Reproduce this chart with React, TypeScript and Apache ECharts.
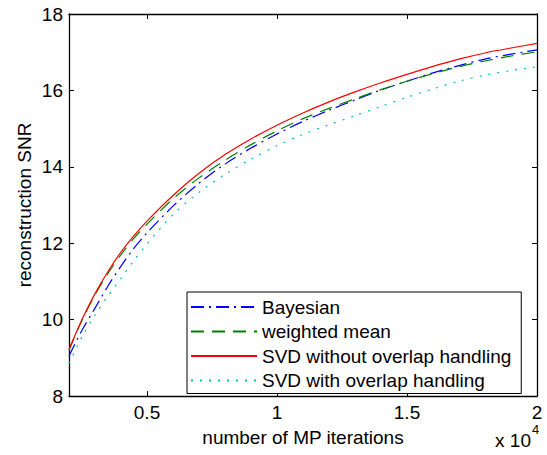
import React, { useEffect, useRef } from "react";
import * as echarts from "echarts";

const iterations = [2000, 2500, 3000, 3500, 4000, 4500, 5000, 6000, 7000, 8000, 9000, 10000, 11000, 12000, 13000, 14000, 15000, 16000, 17000, 18000, 19000, 20000];
const bayesian = [9.05, 9.72, 10.3, 10.88, 11.4, 11.87, 12.27, 12.97, 13.57, 14.07, 14.49, 14.86, 15.19, 15.48, 15.75, 16.01, 16.24, 16.46, 16.65, 16.82, 16.95, 17.06];
const weightedMean = [9.2, 9.98, 10.65, 11.21, 11.7, 12.13, 12.5, 13.16, 13.71, 14.17, 14.58, 14.94, 15.26, 15.53, 15.78, 16.02, 16.24, 16.44, 16.62, 16.77, 16.9, 17.01];
const svdWithout = [9.22, 10.0, 10.68, 11.26, 11.77, 12.2, 12.58, 13.25, 13.83, 14.32, 14.73, 15.09, 15.41, 15.7, 15.96, 16.2, 16.42, 16.63, 16.82, 16.98, 17.11, 17.23];
const svdWith = [8.85, 9.55, 10.12, 10.62, 11.08, 11.55, 11.98, 12.75, 13.33, 13.8, 14.2, 14.55, 14.85, 15.1, 15.34, 15.58, 15.82, 16.04, 16.24, 16.4, 16.52, 16.62];
const seriesNames = ["Bayesian", "weighted mean", "SVD without overlap handling", "SVD with overlap handling"];
const seriesColors = ["#0000ff", "#008000", "#ff0000", "#00bfbf"];
const seriesDash: any[] = [[13, 5, 2, 5], [13, 8], "solid", [2, 7]];
const xTickValues = [5000, 10000, 15000, 20000];
const yTicks = [8, 10, 12, 14, 16, 18];

const FONT = "Liberation Sans, Arial, Helvetica, sans-serif";

export default function App() {
  const ref = useRef<HTMLDivElement>(null);
  useEffect(() => {
    document.body.style.margin = "0";
    const chart = echarts.init(ref.current!, null, { renderer: "svg" });
    const mk = (arr: number[]) => iterations.map((x, i) => [x, arr[i]]);
    const axisLine = { show: true, onZero: false, lineStyle: { color: "#000", width: 1.3 } };
    const tick = { show: true, inside: true, length: 5, lineStyle: { color: "#000", width: 1 } };
    const allData = [bayesian, weightedMean, svdWithout, svdWith];
    chart.setOption({
      animation: false,
      backgroundColor: "#fff",
      grid: { left: 69, right: 10, top: 14, bottom: 59 },
      xAxis: [
        {
          type: "value",
          min: 2000,
          max: 20000,
          axisLine,
          axisTick: { ...tick, customValues: xTickValues },
          splitLine: { show: false },
          axisLabel: {
            customValues: xTickValues,
            formatter: (v: number) => String(v / 10000),
            fontSize: 19,
            fontFamily: FONT,
            color: "#000",
            margin: 7,
          },
        },
        {
          type: "value",
          position: "top",
          min: 2000,
          max: 20000,
          axisLine,
          axisTick: { ...tick, customValues: xTickValues },
          splitLine: { show: false },
          axisLabel: { show: false, customValues: xTickValues },
        },
      ],
      yAxis: [
        {
          type: "value",
          min: 8,
          max: 18,
          interval: 2,
          axisLine,
          axisTick: tick,
          splitLine: { show: false },
          axisLabel: {
            formatter: (v: number) => (yTicks.includes(v) ? String(v) : ""),
            fontSize: 19,
            fontFamily: FONT,
            color: "#000",
            margin: 6,
          },
        },
        {
          type: "value",
          position: "right",
          min: 8,
          max: 18,
          interval: 2,
          axisLine,
          axisTick: tick,
          splitLine: { show: false },
          axisLabel: { show: false },
        },
      ],
      legend: {
        orient: "vertical",
        left: 187,
        top: 292,
        backgroundColor: "#fff",
        borderColor: "#000",
        borderWidth: 1,
        borderRadius: 0,
        padding: [5, 10, 3, 3],
        itemWidth: 66,
        itemHeight: 14,
        itemGap: 4.5,
        itemStyle: { opacity: 0 },
        textStyle: { fontSize: 19, fontFamily: FONT, color: "#000", lineHeight: 20 },
        data: seriesNames,
      },
      series: seriesNames.map((name, i) => ({
        type: "line",
        name,
        data: mk(allData[i]),
        symbol: "circle",
        showSymbol: false,
        smooth: 0.3,
        lineStyle: { color: seriesColors[i], width: 1.2, type: seriesDash[i] },
        itemStyle: { color: seriesColors[i] },
      })),
      graphic: [
        {
          type: "text",
          x: 24,
          y: 205,
          rotation: Math.PI / 2,
          style: { text: "reconstruction SNR", fontSize: 19, fontFamily: FONT, fill: "#000", align: "center", verticalAlign: "middle" },
        },
        {
          type: "text",
          x: 303,
          y: 437,
          style: { text: "number of MP iterations", fontSize: 19, fontFamily: FONT, fill: "#000", align: "center", verticalAlign: "middle" },
        },
        {
          type: "text",
          x: 531,
          y: 440,
          style: { text: "x 10", fontSize: 19, fontFamily: FONT, fill: "#000", align: "right", verticalAlign: "middle" },
        },
        {
          type: "text",
          x: 532,
          y: 429,
          style: { text: "4", fontSize: 13, fontFamily: FONT, fill: "#000", align: "left", verticalAlign: "middle" },
        },
      ],
    });
    return () => chart.dispose();
  }, []);
  return <div ref={ref} style={{ width: 547, height: 455 }} />;
}
